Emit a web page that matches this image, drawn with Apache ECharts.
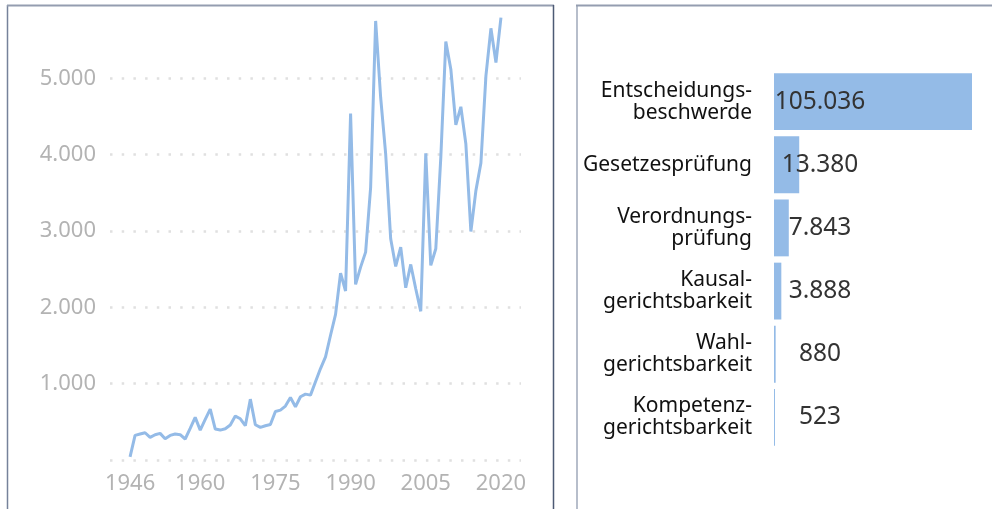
<!DOCTYPE html>
<html><head><meta charset="utf-8">
<script src="https://cdn.jsdelivr.net/npm/echarts@6/dist/echarts.min.js"></script>
<style>html,body{margin:0;padding:0;background:#fff}#c{width:992px;height:509px}</style>
</head><body><div id="c"></div>
<script>
const firstYear = 1946;
const caseCounts = [40,322,340,357,296,331,349,279,322,340,331,275,414,558,392,532,667,405,392,410,
  458,575,540,449,797,462,427,449,466,636,654,706,819,697,828,863,850,1024,1198,1351,
  1634,1908,2449,2214,4540,2300,2527,2723,3573,5752,4749,4009,2898,2536,2788,2257,2562,2244,1948,4017,
  2549,2767,3965,5482,5120,4392,4627,4139,2993,3529,3891,5033,5655,5207,5795];
const yearTicks = [1946,1960,1975,1990,2005,2020];
const yTicks = [1000,2000,3000,4000,5000];
const procCategories = ['Entscheidungs-\nbeschwerde','Gesetzesprüfung','Verordnungs-\nprüfung','Kausal-\ngerichtsbarkeit','Wahl-\ngerichtsbarkeit','Kompetenz-\ngerichtsbarkeit'];
const procValues = [105036,13380,7843,3888,880,523];

const fmt = v => String(v).replace(/\B(?=(\d{3})+(?!\d))/g, '.');
const lineData = caseCounts.map((v, i) => [firstYear + i, v]);
const FONT = 'Noto Sans';
const blue = '#94bbe7';

const chart = echarts.init(document.getElementById('c'), null, {renderer: 'canvas'});
chart.setOption({
  animation: false,
  textStyle: {fontFamily: FONT},
  grid: [
    {left: 110, right: 471, top: 2, bottom: 49},
    {left: 774, right: 20, top: 70, height: 379}
  ],
  xAxis: [
    {gridIndex: 0, type: 'value', min: 1942, max: 2024,
     axisLine: {show: false}, axisTick: {show: false}, splitLine: {show: false},
     axisLabel: {customValues: yearTicks, fontSize: 22, color: '#b3b3b3', fontFamily: FONT, margin: 13,
       formatter: v => String(v)}},
    {gridIndex: 1, type: 'value', min: 0, max: procValues[0], show: false}
  ],
  yAxis: [
    {gridIndex: 0, type: 'value', min: 0, max: 6000, interval: 1000,
     axisLine: {show: false}, axisTick: {show: false},
     axisLabel: {fontSize: 22, color: '#b3b3b3', fontFamily: FONT, margin: 14,
       formatter: v => yTicks.indexOf(v) >= 0 ? fmt(v) : ''},
     splitLine: {show: true, showMinLine: true, showMaxLine: false,
       lineStyle: {color: '#e0e0e0', width: 2.5, type: [2.5, 9.2]}}},
    {gridIndex: 1, type: 'category', data: procCategories, inverse: true,
     axisLine: {show: false}, axisTick: {show: false},
     axisLabel: {fontSize: 21, color: '#111', fontFamily: FONT, margin: 22, lineHeight: 22, align: 'right'}}
  ],
  series: [
    {type: 'line', xAxisIndex: 0, yAxisIndex: 0, data: lineData, showSymbol: false,
     lineStyle: {color: blue, width: 3}, itemStyle: {color: blue}},
    {type: 'bar', xAxisIndex: 1, yAxisIndex: 1, data: procValues, barCategoryGap: '10%',
     itemStyle: {color: blue},
     label: {show: true, position: [46, '50%'], align: 'center', verticalAlign: 'middle',
       fontSize: 24.5, color: '#333', fontFamily: FONT, formatter: p => fmt(p.value)}}
  ],
  graphic: [
    {type: 'line', shape: {x1: 7.5, y1: 5, x2: 7.5, y2: 509}, style: {stroke: '#76829a', lineWidth: 1.5}},
    {type: 'line', shape: {x1: 7, y1: 5.5, x2: 554, y2: 5.5}, style: {stroke: '#949db0', lineWidth: 2}},
    {type: 'line', shape: {x1: 553.5, y1: 5, x2: 553.5, y2: 509}, style: {stroke: '#4d5a74', lineWidth: 1.5}},
    {type: 'line', shape: {x1: 577, y1: 5, x2: 577, y2: 509}, style: {stroke: '#9fa8ba', lineWidth: 1.5}},
    {type: 'line', shape: {x1: 576, y1: 5.5, x2: 992, y2: 5.5}, style: {stroke: '#949db0', lineWidth: 2}}
  ]
});
</script></body></html>
